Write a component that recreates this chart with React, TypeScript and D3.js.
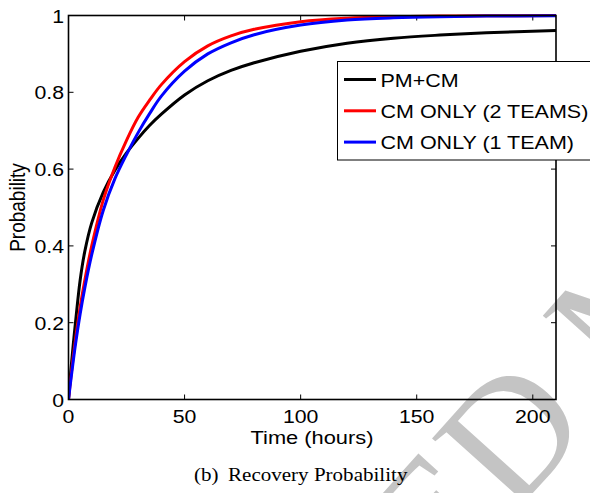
import React from "react";
import * as d3 from "d3";

// values (hours vs probability)
const timeHours = [0, 1, 2, 3, 5, 7, 10, 15, 20, 25, 30, 35, 40, 50, 60, 70, 80, 100, 120, 140, 160, 180, 210];
const pmCm = [0, 0.075, 0.14, 0.2, 0.31, 0.385, 0.46, 0.54, 0.597, 0.642, 0.68, 0.714, 0.743, 0.793, 0.83, 0.857, 0.877, 0.907, 0.928, 0.941, 0.949, 0.955, 0.961];
const cmTwoTeams = [0, 0.057, 0.109, 0.156, 0.24, 0.31, 0.4, 0.52, 0.605, 0.675, 0.735, 0.78, 0.82, 0.88, 0.921, 0.947, 0.964, 0.984, 0.993, 0.9968, 0.9986, 0.9994, 0.9998];
const cmOneTeam = [0, 0.05, 0.098, 0.143, 0.222, 0.29, 0.377, 0.493, 0.575, 0.638, 0.695, 0.745, 0.79, 0.855, 0.9, 0.929, 0.95, 0.975, 0.988, 0.994, 0.997, 0.9985, 0.9995];

const seriesNames = ["PM+CM", "CM ONLY (2 TEAMS)", "CM ONLY (1 TEAM)"];
const seriesColors = ["#000000", "#ff0000", "#0000ff"];

const xTickValues = [0, 50, 100, 150, 200];
const yTickValues = [0, 0.2, 0.4, 0.6, 0.8, 1];
const yTickLabels = ["0", "0.2", "0.4", "0.6", "0.8", "1"];

const svgWidth = 590;
const svgHeight = 493;
const plot = { left: 68.5, right: 556, top: 15.5, bottom: 399.5 };
const SX = 1.15; // the source figure is stretched a bit horizontally
const sans = "'Liberation Sans', Arial, Helvetica, sans-serif";
const serif = "'Liberation Serif', 'Times New Roman', serif";

const Txt = ({ x, y, size, anchor = "start", family = sans, fill = "#000", children }: any) => (
  <text
    transform={`translate(${x},${y}) scale(${SX},1)`}
    fontFamily={family}
    fontSize={size}
    textAnchor={anchor}
    fill={fill}
  >
    {children}
  </text>
);

export default function App() {
  const xScale = d3.scaleLinear().domain([0, 210]).range([plot.left, plot.right]);
  const yScale = d3.scaleLinear().domain([0, 1]).range([plot.bottom, plot.top]);

  const allSeries = [pmCm, cmTwoTeams, cmOneTeam];
  const line = d3
    .line<number>()
    .x((_, i) => xScale(timeHours[i]))
    .y((d) => yScale(d))
    .curve(d3.curveCatmullRom.alpha(0.5));

  const tickLen = 5;

  return (
    <svg
      width={svgWidth}
      height={svgHeight}
      style={{ position: "absolute", left: 0, top: 0, background: "#fff" }}
    >
      <defs>
        <clipPath id="plotClip">
          <rect x={plot.left} y={plot.top - 2} width={plot.right - plot.left} height={plot.bottom - plot.top + 2} />
        </clipPath>
      </defs>

      {/* watermark */}
      <text
        transform="translate(6,1078) rotate(-48)"
        fontFamily={serif}
        fontSize={170}
        fill="#c4c4c4"
      >
        ACCEPTED MANUSCRIPT
      </text>

      {/* ticks, inward on all four sides */}
      {xTickValues.map((t) => (
        <g key={"xt" + t}>
          <line x1={xScale(t)} x2={xScale(t)} y1={plot.bottom} y2={plot.bottom - tickLen} stroke="#000" strokeWidth={1} />
          <line x1={xScale(t)} x2={xScale(t)} y1={plot.top} y2={plot.top + tickLen} stroke="#000" strokeWidth={1} />
          <Txt x={xScale(t)} y={423} size={18.5} anchor="middle">
            {t}
          </Txt>
        </g>
      ))}
      {yTickValues.map((v, i) => (
        <g key={"yt" + v}>
          <line x1={plot.left} x2={plot.left + tickLen} y1={yScale(v)} y2={yScale(v)} stroke="#000" strokeWidth={1} />
          <line x1={plot.right} x2={plot.right - tickLen} y1={yScale(v)} y2={yScale(v)} stroke="#000" strokeWidth={1} />
          <Txt x={64} y={yScale(v) + 7} size={18.5} anchor="end">
            {yTickLabels[i]}
          </Txt>
        </g>
      ))}

      {/* curves */}
      <g clipPath="url(#plotClip)">
        {allSeries.map((s, i) => (
          <path key={seriesNames[i]} d={line(s) || ""} fill="none" stroke={seriesColors[i]} strokeWidth={3} />
        ))}
      </g>

      {/* axes box */}
      <rect
        x={plot.left}
        y={plot.top}
        width={plot.right - plot.left}
        height={plot.bottom - plot.top}
        fill="none"
        stroke="#000"
        strokeWidth={1.6}
      />

      {/* axis labels */}
      <Txt x={312} y={444} size={19} anchor="middle">
        Time (hours)
      </Txt>
      <text
        transform={`translate(25,${(plot.top + plot.bottom) / 2}) scale(${SX},1) rotate(-90)`}
        fontFamily={sans}
        fontSize={19}
        textAnchor="middle"
      >
        Probability
      </text>

      {/* legend */}
      <rect x={337.5} y={61.5} width={270} height={98.5} fill="#fff" stroke="#000" strokeWidth={1} />
      {seriesNames.map((name, i) => {
        const ly = 79.5 + i * 31.3;
        return (
          <g key={"lg" + name}>
            <line x1={344} x2={376} y1={ly} y2={ly} stroke={seriesColors[i]} strokeWidth={3} />
            <Txt x={380.5} y={ly + 7} size={18.7}>
              {name}
            </Txt>
          </g>
        );
      })}

      {/* caption */}
      <Txt x={194} y={481} size={18.3} family={serif}>
        (b)
      </Txt>
      <Txt x={228} y={481} size={18.3} family={serif}>
        Recovery Probability
      </Txt>
    </svg>
  );
}
